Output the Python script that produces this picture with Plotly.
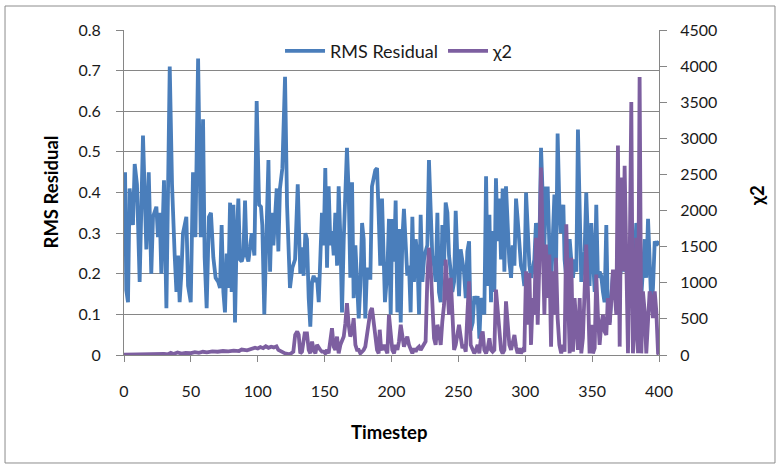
import plotly.graph_objects as go

# ---- data ----
t_rms = [0, 0.8, 1.7, 3.0, 4.2, 6.7, 8.0, 9.7, 11.7, 14.2, 16.7, 18.5, 20.4, 21.7, 24.2, 25.4, 26.7, 27.9, 29.9, 31.7,
         34.2, 35.9, 37.9, 39.2, 40.4, 41.6, 42.9, 44.1, 45.4, 46.6, 47.9, 49.9, 51.6, 53.4, 55.4, 57.4, 59.1, 60.3, 61.8, 63.5,
         65.0, 66.8, 68.5, 70.5, 71.8, 73.0, 74.3, 75.5, 76.8, 78.0, 79.3, 80.5, 81.8, 83.0, 84.2, 85.5, 86.7, 88.0, 89.2, 90.5,
         91.7, 93.0, 95.5, 97.5, 99.2, 101.0, 102.4, 103.4, 104.9, 106.7, 108.0, 109.2, 110.4, 111.7, 112.9, 114.2, 115.4, 116.6, 118.4, 120.4,
         121.9, 123.0, 124.1, 125.9, 127.9, 129.9, 131.8, 133.1, 134.3, 135.6, 136.8, 138.1, 139.3, 140.6, 141.8, 143.1, 144.3, 145.6, 146.8, 148.0,
         149.3, 150.5, 151.8, 153.0, 154.3, 155.5, 156.8, 158.0, 159.3, 160.5, 161.8, 163.0, 164.3, 165.5, 166.7, 168.0, 169.2, 170.5, 171.7, 173.0,
         174.2, 175.5, 176.7, 178.0, 179.2, 180.4, 181.7, 183.0, 184.2, 185.4, 187.9, 189.2, 190.4, 191.6, 192.9, 195.1, 196.9, 198.1, 199.4, 200.6,
         201.9, 203.1, 204.4, 205.6, 206.9, 208.1, 209.3, 210.6, 211.8, 213.1, 214.3, 215.6, 216.8, 218.1, 219.3, 220.6, 221.8, 223.1, 224.3, 225.5,
         226.8, 228.0, 229.3, 230.5, 231.8, 233.0, 234.3, 235.5, 236.8, 238.0, 239.3, 240.5, 241.8, 243.0, 244.3, 245.5, 246.8, 248.0, 249.2, 250.5,
         251.7, 253.0, 254.2, 255.5, 256.7, 258.0, 259.2, 260.7, 261.9, 263.2, 264.4, 265.7, 266.9, 268.2, 269.4, 270.7, 271.9, 273.2, 274.4, 275.6,
         276.9, 278.1, 279.4, 280.6, 281.9, 283.1, 284.4, 285.6, 286.9, 288.1, 289.4, 290.6, 291.9, 293.1, 294.3, 295.6, 296.8, 298.1, 299.3, 300.6,
         301.8, 303.1, 304.3, 305.6, 306.8, 308.0, 309.3, 310.5, 311.8, 313.0, 314.3, 315.5, 316.8, 318.0, 319.3, 320.5, 321.8, 323.0, 324.2, 325.5,
         326.6, 327.6, 328.5, 329.4, 330.7, 331.9, 333.2, 334.4, 335.7, 336.9, 338.2, 339.4, 340.7, 341.9, 343.1, 344.4, 345.6, 346.9, 348.1, 349.4,
         350.6, 351.9, 353.1, 354.3, 355.6, 356.8, 358.1, 359.3, 360.6, 361.8, 363.1, 364.3, 365.6, 366.8, 368.1, 369.3, 370.6, 371.8, 373.1, 374.3,
         375.6, 376.8, 378.1, 380.5, 381.8, 383.0, 384.3, 385.5, 386.8, 388.0, 389.3, 390.5, 391.8, 393.0, 394.3, 395.5, 396.8, 398.0, 399.3, 400]
rms = [0.30, 0.45, 0.16, 0.13, 0.41, 0.32, 0.47, 0.42, 0.18, 0.54, 0.26, 0.45, 0.20, 0.34, 0.365, 0.29, 0.35, 0.20, 0.43, 0.115,
       0.71, 0.42, 0.245, 0.155, 0.245, 0.13, 0.20, 0.30, 0.32, 0.34, 0.17, 0.13, 0.45, 0.29, 0.73, 0.29, 0.58, 0.24, 0.115, 0.34,
       0.35, 0.24, 0.19, 0.18, 0.165, 0.32, 0.155, 0.105, 0.25, 0.165, 0.375, 0.155, 0.37, 0.08, 0.285, 0.385, 0.235, 0.23, 0.245, 0.38,
       0.245, 0.23, 0.30, 0.245, 0.625, 0.37, 0.365, 0.32, 0.10, 0.35, 0.48, 0.205, 0.35, 0.27, 0.325, 0.41, 0.255, 0.41, 0.46, 0.685,
       0.37, 0.245, 0.165, 0.215, 0.235, 0.42, 0.20, 0.265, 0.195, 0.30, 0.285, 0.14, 0.07, 0.18, 0.195, 0.18, 0.19, 0.13, 0.22, 0.35,
       0.27, 0.46, 0.215, 0.415, 0.27, 0.305, 0.245, 0.35, 0.22, 0.415, 0.285, 0.105, 0.285, 0.385, 0.51, 0.40, 0.19, 0.425, 0.14, 0.27,
       0.17, 0.09, 0.17, 0.325, 0.285, 0.09, 0.215, 0.19, 0.19, 0.415, 0.455, 0.46, 0.345, 0.22, 0.385, 0.13, 0.205, 0.335, 0.10, 0.335,
       0.23, 0.38, 0.105, 0.31, 0.08, 0.285, 0.36, 0.255, 0.195, 0.22, 0.105, 0.34, 0.18, 0.285, 0.245, 0.10, 0.345, 0.18, 0.235, 0.255,
       0.27, 0.48, 0.335, 0.245, 0.22, 0.18, 0.35, 0.155, 0.13, 0.32, 0.22, 0.375, 0.35, 0.245, 0.205, 0.155, 0.18, 0.355, 0.245, 0.145,
       0.26, 0.235, 0.205, 0.14, 0.255, 0.28, 0.06, 0.08, 0.145, 0.125, 0.145, 0.04, 0.14, 0.125, 0.10, 0.44, 0.17, 0.345, 0.13, 0.305,
       0.155, 0.435, 0.28, 0.385, 0.235, 0.41, 0.205, 0.415, 0.32, 0.23, 0.19, 0.27, 0.22, 0.385, 0.335, 0.28, 0.22, 0.205, 0.17, 0.40,
       0.32, 0.22, 0.19, 0.215, 0.235, 0.325, 0.285, 0.255, 0.51, 0.35, 0.27, 0.41, 0.41, 0.27, 0.17, 0.28, 0.395, 0.205, 0.545, 0.37,
       0.30, 0.35, 0.37, 0.235, 0.19, 0.22, 0.285, 0.235, 0.19, 0.235, 0.205, 0.555, 0.32, 0.18, 0.22, 0.255, 0.40, 0.27, 0.17, 0.325,
       0.235, 0.155, 0.37, 0.19, 0.205, 0.195, 0.155, 0.13, 0.32, 0.10, 0.08, 0.155, 0.205, 0.17, 0.165, 0.18, 0.19, 0.215, 0.255, 0.205,
       0.255, 0.155, 0.19, 0.285, 0.235, 0.325, 0.235, 0.19, 0.145, 0.235, 0.285, 0.19, 0.335, 0.235, 0.115, 0.165, 0.28, 0.27, 0.28, 0.28]

t_chi = [0, 5, 10, 15, 20, 25, 30, 33, 35, 37, 40, 43, 46, 50, 53, 56, 59, 62, 66, 70,
         74, 78, 82, 86, 88, 92, 95, 98, 100, 102, 104, 106, 108, 110, 112, 114, 115.4, 118, 120.4, 124,
         126.6, 128, 129.5, 130.6, 131.8, 133.1, 135.1, 136.8, 138.1, 139.3, 140.6, 141.8, 143.1, 144.3, 145.6, 146.8, 148, 149.3, 150.5, 151.8,
         153, 154.3, 155.5, 156.8, 158, 159.3, 160.5, 161.8, 163, 164.3, 165.5, 166.7, 168, 169.2, 170.5, 171.7, 173, 174.2, 175.5, 176.7,
         178, 179.2, 180.4, 181.7, 183, 184.2, 185.4, 186.7, 187.9, 189.2, 190.4, 191.2, 192.2, 193.1, 194.4, 195.6, 196.9, 198.1, 199.4, 200.6,
         201.9, 203.1, 204.4, 205.6, 206.9, 208.1, 209.3, 210.6, 211.8, 213.1, 214.3, 215.6, 216.8, 218.1, 219.3, 220.6, 221.8, 223.1, 224.3, 225.5,
         226.8, 228, 229.3, 230.5, 231.8, 233, 234.3, 235.5, 236.8, 238, 239.3, 240.5, 241.8, 243, 244.3, 245.5, 246.8, 248, 249.2, 250.5,
         251.7, 253, 254.2, 255.5, 256.7, 258, 259.2, 260.7, 261.9, 263.2, 264.4, 265.7, 266.9, 268.2, 269.4, 270.7, 271.9, 273.2, 274.4, 275.6,
         276.9, 278.1, 279.4, 280.6, 281.9, 283.1, 284.4, 285.6, 286.9, 288.1, 289.4, 290.6, 291.9, 293.1, 294.3, 295.6, 296.8, 298.1, 299.3, 300.6,
         301.8, 303.1, 304.3, 305.6, 306.8, 308, 309.3, 310.5, 311.8, 313, 314.3, 315.5, 316.8, 318, 319.3, 320.5, 321.8, 323, 324.2, 325.5,
         326.9, 328.2, 329.4, 330.7, 331.9, 333.2, 334.4, 335.7, 336.9, 338.2, 339.4, 340.7, 341.9, 343.1, 344.4, 345.6, 346.9, 348.1, 349.4, 350.6,
         351.9, 353.1, 354.3, 355.6, 356.8, 358.1, 359.3, 360.6, 361.8, 363.1, 364.3, 365.6, 366.8, 368.1, 369.3, 370.6, 371.8, 373.1, 374.3, 375.6,
         376.8, 378.1, 379.3, 380.5, 381.8, 383, 384.3, 385.5, 386.8, 388, 389.3, 390.5, 391.8, 393, 394.3, 395.5, 396.8, 398, 399.3, 400]
chi2 = [5, 8, 5, 10, 8, 12, 15, 10, 30, 15, 35, 20, 30, 25, 40, 30, 45, 37, 50, 45,
        55, 50, 60, 55, 75, 65, 80, 100, 90, 110, 95, 120, 100, 115, 105, 120, 70, 46, 23, 10,
        46, 280, 325, 280, 23, 46, 300, 300, 70, 23, 186, 70, 23, 140, 93, 70, 46, 46, 23, 70,
        23, 186, 371, 116, 70, 255, 23, 140, 186, 255, 440, 719, 418, 255, 325, 510, 140, 70, 70, 23,
        46, 70, 116, 278, 418, 603, 650, 464, 232, 70, 23, 350, 93, 70, 140, 70, 23, 557, 255, 70,
        23, 140, 70, 186, 418, 255, 116, 186, 255, 140, 70, 23, 93, 46, 93, 116, 70, 116, 140, 186,
        1060, 1485, 1206, 700, 232, 140, 418, 325, 140, 464, 696, 1322, 789, 557, 1067, 418, 70, 140, 302, 418,
        255, 93, 140, 46, 557, 1020, 140, 70, 23, 70, 140, 23, 255, 325, 70, 23, 93, 232, 70, 46,
        70, 905, 557, 418, 70, 23, 70, 742, 418, 140, 70, 186, 278, 116, 23, 93, 23, 70, 46, 1160,
        418, 1136, 140, 789, 557, 1623, 418, 1252, 2597, 1623, 557, 1530, 789, 1391, 116, 1160, 557, 1345, 510, 140,
        23, 140, 46, 1810, 650, 23, 1345, 46, 789, 418, 70, 789, 23, 232, 1113, 1530, 881, 23, 418, 23,
        93, 1113, 557, 140, 418, 557, 325, 278, 789, 418, 742, 1183, 881, 557, 2899, 116, 2458, 1160, 2620, 881,
        23, 1345, 3502, 23, 325, 1623, 23, 3850, 23, 881, 603, 23, 510, 881, 789, 510, 881, 603, 23, 10]

x_ticks = [0, 50, 100, 150, 200, 250, 300, 350, 400]
rms_ticks = [0, 0.1, 0.2, 0.3, 0.4, 0.5, 0.6, 0.7, 0.8]
chi_ticks = [0, 500, 1000, 1500, 2000, 2500, 3000, 3500, 4000, 4500]

BLUE = "#4A7EBB"
PURPLE = "#7D5FA0"
GRID = "#868686"
FONT = "Lato"

fig = go.Figure()
fig.add_trace(go.Scatter(x=t_rms, y=rms, mode="lines", name="RMS Residual",
                         line=dict(color=BLUE, width=3.8)))
fig.add_trace(go.Scatter(x=t_chi, y=chi2, mode="lines", name="χ2", yaxis="y2",
                         line=dict(color=PURPLE, width=3.8)))

fig.update_layout(
    width=780, height=467,
    margin=dict(l=124, r=121, t=30, b=112),
    paper_bgcolor="white", plot_bgcolor="white",
    font=dict(family=FONT, size=16, color="#1a1a1a"),
    showlegend=True,
    legend=dict(orientation="h", x=0.515, xanchor="center", y=0.935, yanchor="middle",
                bgcolor="rgba(255,255,255,0)", font=dict(size=18), itemwidth=40,
                tracegroupgap=0),
    xaxis=dict(range=[0, 400], tickvals=x_ticks, showgrid=False, zeroline=False,
               showline=True, linecolor=GRID, linewidth=1, ticks="outside", ticklen=6,
               tickcolor=GRID, ticklabelstandoff=16),
    yaxis=dict(range=[0, 0.8], tickvals=rms_ticks, showgrid=True, gridcolor=GRID, gridwidth=1,
               zeroline=False, showline=True, linecolor=GRID, linewidth=1, ticks="outside",
               ticklen=7, tickcolor=GRID, ticklabelstandoff=12),
    yaxis2=dict(range=[0, 4500], tickvals=chi_ticks, overlaying="y", side="right", showgrid=False,
                zeroline=False, showline=True, linecolor=GRID, linewidth=1, ticks="outside",
                ticklen=7, tickcolor=GRID, ticklabelstandoff=10),
    annotations=[
        dict(text="<b>RMS Residual</b>", xref="paper", yref="paper", x=-0.1383, y=0.5,
             textangle=-90, showarrow=False, font=dict(size=18.5, color="#000"),
             xanchor="center", yanchor="middle"),
        dict(text="<b>Timestep</b>", xref="paper", yref="paper", x=0.4953, y=-0.2369,
             showarrow=False, font=dict(size=18.5, color="#000"), xanchor="center", yanchor="middle"),
        dict(text="<b>χ2</b>", xref="paper", yref="paper", x=1.1832, y=0.489,
             textangle=-90, showarrow=False, font=dict(size=18.5, color="#000"),
             xanchor="center", yanchor="middle"),
    ],
    shapes=[dict(type="rect", xref="paper", yref="paper", x0=-0.2224, x1=1.2168, y0=-0.3323, y1=1.0738,
                 line=dict(color="#8c8c8c", width=1), fillcolor="rgba(0,0,0,0)", layer="below")],
)

fig.write_html("out.html")
